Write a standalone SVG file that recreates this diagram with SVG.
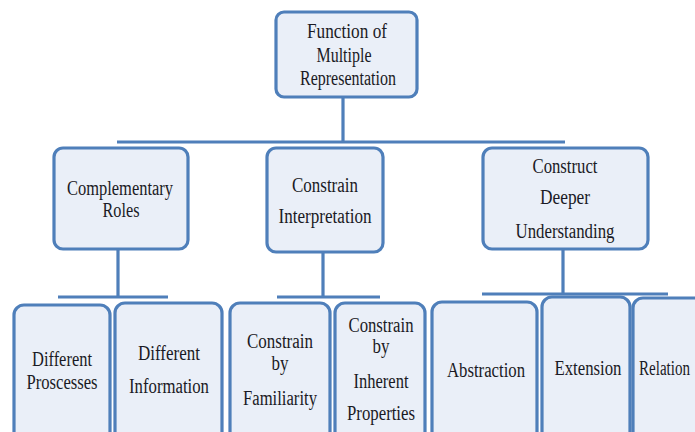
<svg xmlns="http://www.w3.org/2000/svg" width="695" height="432" viewBox="0 0 695 432">
<style>
.box{fill:#eaeff8;stroke:#4f7fba;stroke-width:3.2}
.ln{stroke:#4f7fba;stroke-width:3.2;fill:none}
text{font-family:"Liberation Serif","Times New Roman",serif;font-size:20px;fill:#1a1a24;text-anchor:middle}
</style>
<rect width="695" height="432" fill="#ffffff"/>
<g id="connectors">
<path class="ln" d="M343 97 V142 M117 142 H565"/>
<path class="ln" d="M118 250 V297 M58 297 H168"/>
<path class="ln" d="M323 253 V297 M277 297 H380"/>
<path class="ln" d="M563 249 V293 M482 294 H668"/>
</g>
<g id="n-root">
<rect class="box" x="276" y="12" width="141" height="85" rx="8"/>
<text x="347" y="38" textLength="80" lengthAdjust="spacingAndGlyphs">Function of</text>
<text x="344" y="62" textLength="55" lengthAdjust="spacingAndGlyphs">Multiple</text>
<text x="348" y="85" textLength="96" lengthAdjust="spacingAndGlyphs">Representation</text>
</g>
<g id="n-complementary">
<rect class="box" x="54" y="148" width="134" height="101" rx="9"/>
<text x="120" y="195" textLength="106" lengthAdjust="spacingAndGlyphs">Complementary</text>
<text x="121" y="217" textLength="37" lengthAdjust="spacingAndGlyphs">Roles</text>
</g>
<g id="n-constrain">
<rect class="box" x="267" y="148" width="116" height="104" rx="9"/>
<text x="325" y="192" textLength="66" lengthAdjust="spacingAndGlyphs">Constrain</text>
<text x="325" y="223" textLength="93" lengthAdjust="spacingAndGlyphs">Interpretation</text>
</g>
<g id="n-construct">
<rect class="box" x="483" y="148" width="165" height="101" rx="9"/>
<text x="565" y="173" textLength="65" lengthAdjust="spacingAndGlyphs">Construct</text>
<text x="565" y="204" textLength="50" lengthAdjust="spacingAndGlyphs">Deeper</text>
<text x="565" y="238" textLength="99" lengthAdjust="spacingAndGlyphs">Understanding</text>
</g>
<g id="n-processes">
<rect class="box" x="14" y="305" width="96" height="150" rx="10"/>
<text x="62" y="366" textLength="60" lengthAdjust="spacingAndGlyphs">Different</text>
<text x="62" y="389" textLength="71" lengthAdjust="spacingAndGlyphs">Proscesses</text>
</g>
<g id="n-information">
<rect class="box" x="115" y="303" width="107" height="150" rx="10"/>
<text x="169" y="360" textLength="62" lengthAdjust="spacingAndGlyphs">Different</text>
<text x="169" y="393" textLength="80" lengthAdjust="spacingAndGlyphs">Information</text>
</g>
<g id="n-familiarity">
<rect class="box" x="230" y="303" width="100" height="150" rx="10"/>
<text x="280" y="348" textLength="66" lengthAdjust="spacingAndGlyphs">Constrain</text>
<text x="280" y="370" textLength="17" lengthAdjust="spacingAndGlyphs">by</text>
<text x="280" y="405" textLength="74" lengthAdjust="spacingAndGlyphs">Familiarity</text>
</g>
<g id="n-inherent">
<rect class="box" x="335" y="303" width="90" height="150" rx="10"/>
<text x="381" y="332" textLength="65" lengthAdjust="spacingAndGlyphs">Constrain</text>
<text x="381" y="353" textLength="17" lengthAdjust="spacingAndGlyphs">by</text>
<text x="381" y="388" textLength="55" lengthAdjust="spacingAndGlyphs">Inherent</text>
<text x="381" y="420" textLength="68" lengthAdjust="spacingAndGlyphs">Properties</text>
</g>
<g id="n-abstraction">
<rect class="box" x="432" y="302" width="105" height="150" rx="10"/>
<text x="486" y="377" textLength="78" lengthAdjust="spacingAndGlyphs">Abstraction</text>
</g>
<g id="n-extension">
<rect class="box" x="542" y="297" width="88" height="150" rx="10"/>
<text x="588" y="375" textLength="67" lengthAdjust="spacingAndGlyphs">Extension</text>
</g>
<g id="n-relation">
<rect class="box" x="633" y="298" width="80" height="150" rx="10"/>
<text x="639" y="375" textLength="51" lengthAdjust="spacingAndGlyphs" style="text-anchor:start">Relation</text>
</g>
</svg>
